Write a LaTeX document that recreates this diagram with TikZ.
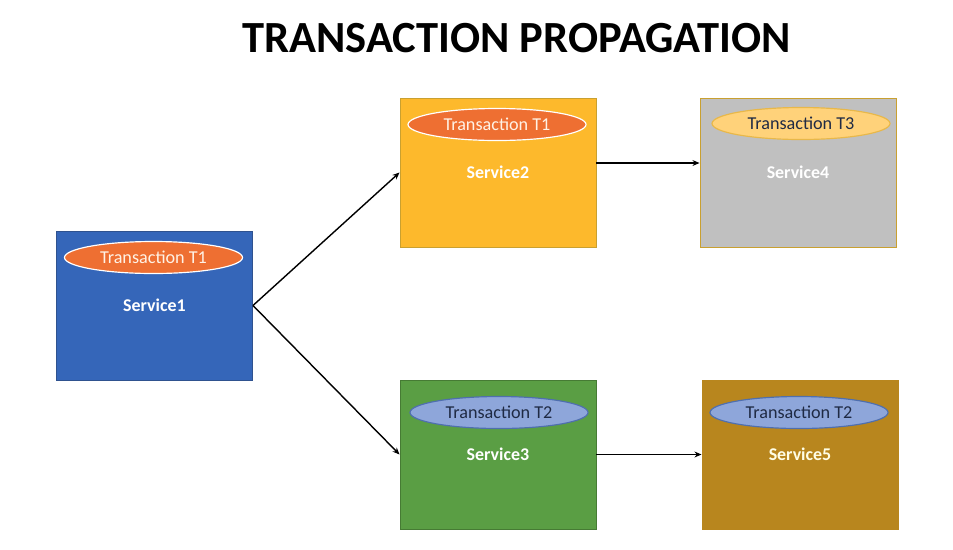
\documentclass[tikz,border=0pt]{standalone}
\usepackage{fontspec}
\setmainfont{Carlito}
\definecolor{svcblue}{HTML}{3566B9}
\definecolor{svcblueline}{HTML}{2F528F}
\definecolor{svcgold}{HTML}{FDB92C}
\definecolor{svcgoldline}{HTML}{C9A030}
\definecolor{svcgray}{HTML}{C0C0C0}
\definecolor{svcgreen}{HTML}{5A9E44}
\definecolor{svcgreenline}{HTML}{467B34}
\definecolor{svcbrown}{HTML}{B8861E}
\definecolor{txorange}{HTML}{EE6F32}
\definecolor{txlight}{HTML}{FFD27A}
\definecolor{txlightline}{HTML}{E8B84A}
\definecolor{txblue}{HTML}{8EA6DA}
\definecolor{txblueline}{HTML}{4F6FAE}
\definecolor{txnavy}{HTML}{1F2A44}
\tikzset{
  svcbox/.style={draw, line width=0.8pt, minimum width=196*0.03cm, minimum height=149*0.03cm,
    inner sep=0pt, text=white, font=\fontsize{15.3}{18}\selectfont\bfseries},
  txoval/.style={ellipse, draw, line width=1pt, minimum width=178*0.03cm, minimum height=32*0.03cm,
    inner sep=0pt, font=\fontsize{15.5}{18}\selectfont},
  flow/.style={-{Stealth[length=6pt,width=5pt]}, line width=1.2pt, black}
}
\usetikzlibrary{shapes.geometric,arrows.meta}
\begin{document}
\begin{tikzpicture}[x=0.03cm,y=-0.03cm]
			\useasboundingbox [fill=white] (0,0) rectangle (953,549);
			\node (title) at (516.5,38) {\fontsize{38}{42}\selectfont\bfseries TRANSACTION PROPAGATION};
			% services
			\node [svcbox, fill=svcblue, draw=svcblueline] (s1) at (154.5,305.5) {Service1};
			\node [svcbox, fill=svcgold, draw=svcgoldline] (s2) at (498,172.5) {Service2};
			\node [svcbox, fill=svcgray, draw=svcgoldline] (s4) at (798,172.5) {Service4};
			\node [svcbox, fill=svcgreen, draw=svcgreenline] (s3) at (498,454.5) {Service3};
			\node [svcbox, fill=svcbrown, draw=svcbrown, text=white!90!yellow] (s5) at (800,454.5) {Service5};
			% transactions
			\node [txoval, fill=txorange, draw=white, text=white!90!orange] (t1a) at (153.5,257.5) {Transaction T1};
			\node [txoval, fill=txorange, draw=white, text=white!90!orange] (t1b) at (497,124.5) {Transaction T1};
			\node [txoval, fill=txlight, draw=txlightline, text=txnavy] (t3) at (801,123.5) {Transaction T3};
			\node [txoval, fill=txblue, draw=txblueline, text=txnavy] (t2a) at (499,412.5) {Transaction T2};
			\node [txoval, fill=txblue, draw=txblueline, text=txnavy] (t2b) at (799,412.5) {Transaction T2};
			% calls
			\draw [flow] (s1.east) to (s2.west);
			\draw [flow] (s1.east) to (s3.west);
			\draw [flow] ([yshift=0.285cm]s2.east) to ([yshift=0.285cm]s4.west);
			\draw [flow] (s3.east) to (s5.west);
		\end{tikzpicture}
\end{document}
